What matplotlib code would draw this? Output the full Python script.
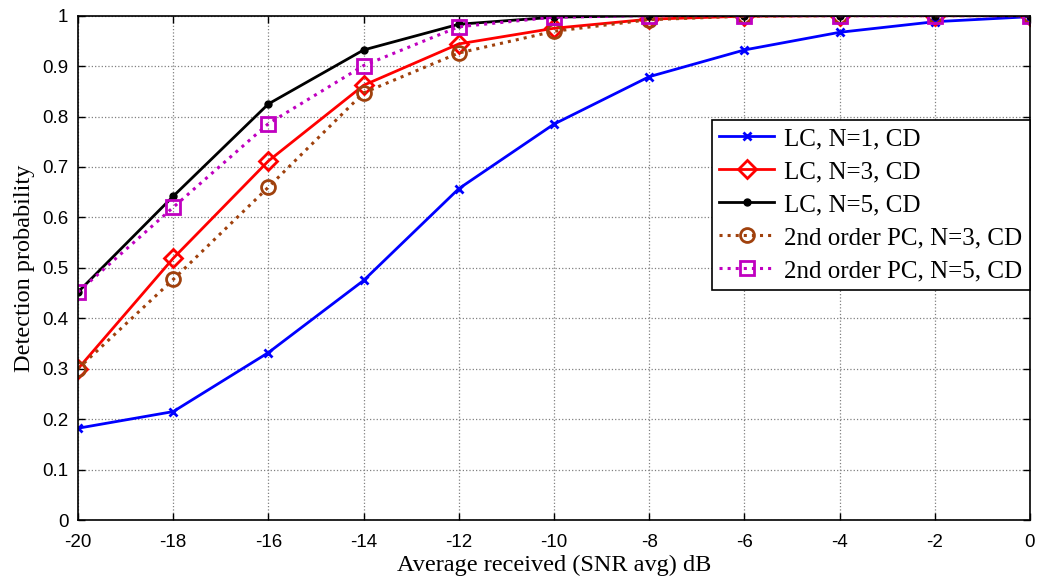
import numpy as np
import matplotlib
matplotlib.use("Agg")
import matplotlib.pyplot as plt

snr = [-20, -18, -16, -14, -12, -10, -8, -6, -4, -2, 0]

lc_n1 = [0.182, 0.215, 0.332, 0.475, 0.657, 0.785, 0.879, 0.932, 0.967, 0.988, 0.998]
lc_n3 = [0.300, 0.519, 0.712, 0.862, 0.944, 0.975, 0.993, 0.999, 1.0, 1.0, 1.0]
lc_n5 = [0.452, 0.642, 0.825, 0.932, 0.983, 0.997, 1.0, 1.0, 1.0, 1.0, 1.0]
pc_n3 = [0.300, 0.477, 0.660, 0.847, 0.926, 0.969, 0.992, 0.999, 1.0, 1.0, 1.0]
pc_n5 = [0.452, 0.620, 0.786, 0.901, 0.978, 0.997, 1.0, 1.0, 1.0, 1.0, 1.0]

labels = ["LC, N=1, CD", "LC, N=3, CD", "LC, N=5, CD",
          "2nd order PC, N=3, CD", "2nd order PC, N=5, CD"]

tick_font = ["Liberation Sans Narrow", "Liberation Sans", "DejaVu Sans"]
serif_font = ["Liberation Serif", "DejaVu Serif"]

fig = plt.figure(figsize=(10.46, 5.8), dpi=100)
ax = fig.add_axes([0.0746, 0.1034, 0.9101, 0.8696])

ax.plot(snr, lc_n1, color="blue", lw=2, marker="x", ms=6, mew=2, label=labels[0])
ax.plot(snr, lc_n3, color="red", lw=2, marker="D", ms=9, mew=2, mfc="none", label=labels[1])
ax.plot(snr, lc_n5, color="black", lw=2, marker=".", ms=10, label=labels[2])
ax.plot(snr, pc_n3, color="#a0410d", lw=2.2, ls=":", marker="o", ms=10, mew=2, mfc="none", label=labels[3])
ax.plot(snr, pc_n5, color="#c000c0", lw=2.2, ls=":", marker="s", ms=10, mew=2, mfc="none", label=labels[4])

ax.set_xlim(-20, 0)
ax.set_ylim(0, 1)
ax.set_xticks(snr)
ax.set_xticklabels([str(v) for v in snr], family=tick_font, fontsize=13.5)
yt = np.round(np.arange(0, 1.01, 0.1), 1)
ax.set_yticks(yt)
ax.set_yticklabels(["0"] + [f"{v:g}" for v in yt[1:-1]] + ["1"], family=tick_font, fontsize=13.5)
ax.tick_params(direction="in", top=True, right=True, length=5, width=1, colors="black")
ax.tick_params(axis="x", pad=10)
ax.tick_params(axis="y", pad=7)
ax.grid(True, ls=":", color="gray", lw=0.9)
for s in ax.spines.values():
    s.set_linewidth(1.2)

ax.set_xlabel("Average received (SNR avg) dB", family=serif_font, fontsize=17.5, labelpad=3)
ax.set_ylabel("Detection probability", family=serif_font, fontsize=17.5, labelpad=5)

leg = ax.legend(loc="upper right", bbox_to_anchor=(1.0, 0.793), prop={"family": serif_font, "size": 18},
                fancybox=False, edgecolor="black", framealpha=1, handlelength=2.2,
                borderpad=0.3, labelspacing=0.42, handletextpad=0.4, borderaxespad=0.0)
leg.get_frame().set_linewidth(1.2)

fig.savefig("out.png", dpi=100)
